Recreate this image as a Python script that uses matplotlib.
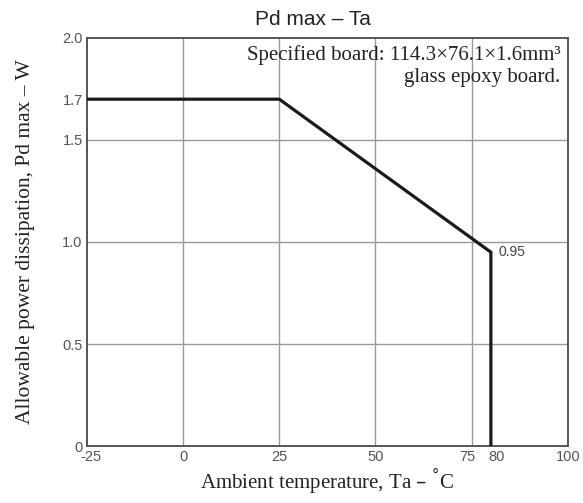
import matplotlib.pyplot as plt
from matplotlib.transforms import ScaledTranslation

# derating curve
ta = [-25, 25, 80, 80]
pd_max = [1.7, 1.7, 0.95, 0]

xticks = [-25, 0, 25, 50, 75, 80, 100]
xtick_labels = ['-25', '0', '25', '50', '75', '80', '100']
yticks = [0, 0.5, 1.0, 1.5, 1.7, 2.0]
ytick_labels = ['0', '0.5', '1.0', '1.5', '1.7', '2.0']
xgrid = [0, 25, 50, 75]
ygrid = [0.5, 1.0, 1.5]

fig = plt.figure(figsize=(5.83, 5.03), dpi=100)
ax = fig.add_axes([0.149, 0.1133, 0.825, 0.8112])

for g in xgrid:
    ax.axvline(g, color='#9a9a9a', lw=1.0, zorder=1)
for g in ygrid:
    ax.axhline(g, color='#9a9a9a', lw=1.0, zorder=1)

ax.plot(ta, pd_max, color='#1a1a1a', lw=2.3, zorder=3, solid_joinstyle='miter')
ax.text(82, 0.95, '0.95', family='Liberation Sans', fontsize=10, color='#444444', va='center')

ax.set_xlim(-25, 100)
ax.set_ylim(0, 2.0)
ax.set_xticks(xticks)
ax.set_xticklabels(xtick_labels, family='Liberation Sans', fontsize=10.5, color='#555555')
ax.set_yticks(yticks)
ax.set_yticklabels(ytick_labels, family='Liberation Sans', fontsize=10.5, color='#555555')
ax.tick_params(length=0, pad=3)
# nudge crowded labels apart (pixels)
shift = {'-25': 4, '75': -4, '80': 6}
for lab in ax.get_xticklabels():
    dx = shift.get(lab.get_text(), 0)
    if dx:
        lab.set_transform(lab.get_transform() + ScaledTranslation(dx / 100, 0, fig.dpi_scale_trans))
for s in ax.spines.values():
    s.set_color('#555555')
    s.set_linewidth(1.4)

ax.set_title('Pd max – Ta', family='Liberation Sans', fontsize=15, color='#222222', pad=9, x=0.47)
ax.set_xlabel('Ambient temperature, Ta – $^{\\degree}$C', family='Liberation Serif', fontsize=15, color='#222222', labelpad=2)
ax.set_ylabel('Allowable power dissipation, Pd max – W', family='Liberation Serif', fontsize=15.5, color='#222222', labelpad=20)
ax.text(0.985, 0.982, 'Specified board: 114.3×76.1×1.6mm³\nglass epoxy board.',
        transform=ax.transAxes, family='Liberation Serif', fontsize=15, color='#222222',
        ha='right', va='top', multialignment='right', linespacing=1.2)

fig.savefig('out.png', dpi=100)
